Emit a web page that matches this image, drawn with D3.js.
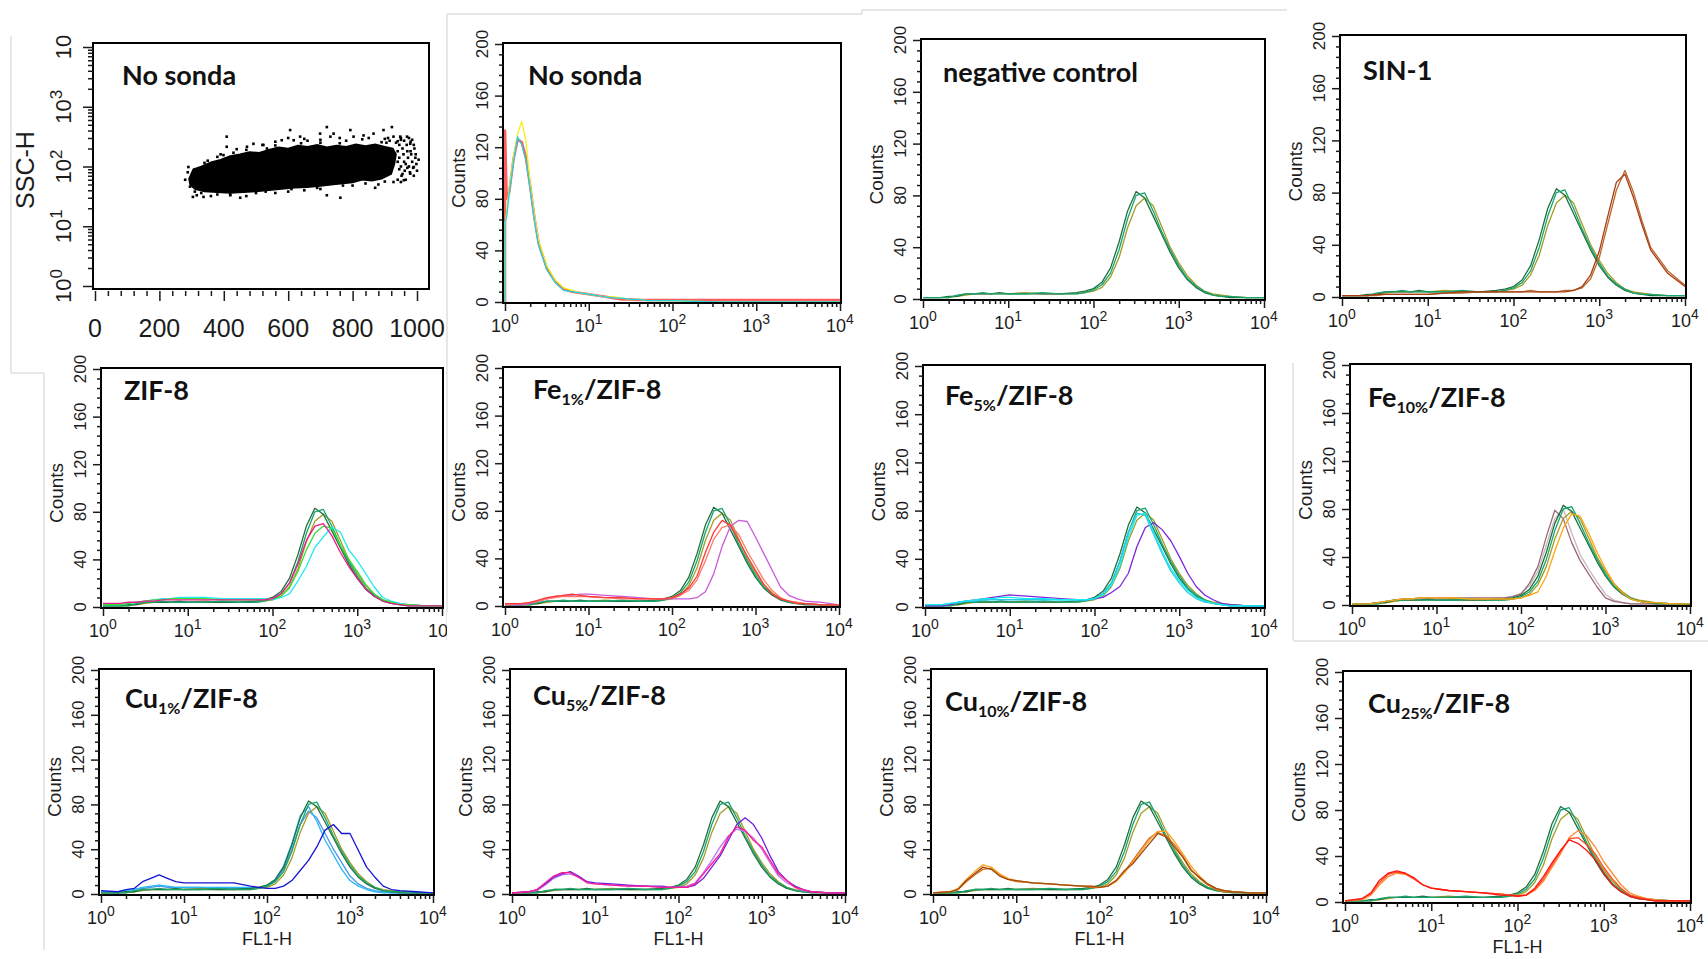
<!DOCTYPE html>
<html><head><meta charset="utf-8">
<script src="https://cdn.jsdelivr.net/npm/d3@7"></script>
<style>body{margin:0;background:#fff}svg{display:block}</style>
</head><body>
<svg id="c" width="1708" height="959"></svg>
<script>
// ---------------- DATA ----------------
// shared log10(FL1-H) bin positions for the histograms
const logGrid = [0,0.2,0.3,0.4,0.5,0.6,0.7,0.8,0.9,1.0,1.2,1.4,1.6,1.8,1.9,2.0,2.1,2.2,2.3,2.4,2.5,2.6,2.7,2.8,2.9,3.0,3.1,3.2,3.3,3.4,3.5,3.6,3.8,4.0];
const nsGrid  = [0,0,0.02,0.05,0.1,0.15,0.2,0.25,0.3,0.35,0.4,0.5,0.6,0.7,0.8,0.9,1.0,1.1,1.2,1.3,1.4,1.5,1.6,1.7,1.8,2.0,2.5,3.0,3.5,4.0];

// No sonda (unstained)
const nsRed    = [0,133,80,85,110,126,124,112,90,66,46,26,16,10,8,7,6,5,4,3,2,2,1.5,1.5,1.5,1.5,1.5,1.5,1.5,1.5];
const nsYellow = [0,60,70,88,112,130,140,125,92,68,48,28,17,11,9,7,6,5,4,4,3,2,2,1,1,1,0,0,0,0];
const nsCyan   = [0,62,66,84,108,128,122,110,88,64,44,25,15,9,8,7,6,5,4,3,3,2,2,1,1,1,0,0,0,0];

// negative control overlays (repeated in every panel)
const ctrlA = [1,1,2,2,4,4,4,4,5,4,4,4,4,5,6,8,13,24,44,68,83,78,64,50,36,24,15,9,5,3,2,1,1,1];
const ctrlB = [1,1,1,3,4,4,5,4,4,4,4,5,4,4,5,7,11,20,38,62,80,82,68,52,38,26,16,10,6,3,2,2,1,1];
const ctrlC = [1,1,1,2,3,4,4,4,4,4,5,4,4,4,5,6,9,17,32,55,72,78,72,56,40,28,18,11,6,4,3,2,1,1];

// SIN-1
const sin1A = [1,1,1,2,2,2,2,2,2,2,3,4,4,4,4,4,4,4,4,4,4,4,5,8,17,35,62,88,94,76,55,36,18,8];
const sin1B = [1,1,1,1,2,2,2,2,2,2,3,3,4,4,4,4,4,5,4,4,4,5,5,7,14,30,56,82,97,80,58,38,20,9];

// ZIF-8
const zifMagenta = [3,3,4,4,5,5,6,6,6,6,6,6,6,6,6,7,11,20,36,56,68,70,60,46,34,24,15,9,5,3,2,1,1,1];
const zifGreen   = [2,2,3,4,5,6,6,7,7,7,7,6,6,6,6,7,9,16,30,48,62,68,66,52,40,30,19,11,6,4,2,2,1,1];
const zifCyan    = [2,2,3,4,5,6,7,7,8,8,8,7,7,7,7,6,8,11,22,34,50,59,67,63,48,39,28,17,8,5,3,2,1,1];

// Fe1%/ZIF-8
const fe1Red    = [2,2,3,5,7,8,9,10,9,8,7,7,6,6,6,7,10,15,25,45,62,72,68,55,42,30,18,10,6,4,2,2,1,1];
const fe1Salmon = [1,2,3,4,6,7,8,8,8,8,7,6,6,6,6,7,9,13,22,38,56,66,68,60,46,34,22,13,7,4,3,2,1,1];
const fe1Violet = [1,1,2,4,6,8,9,9,10,10,9,8,7,6,6,6,6,6,7,12,27,50,67,72,71,58,44,30,16,9,6,4,3,1];

// Fe5%/ZIF-8
const fe5Cyan   = [2,2,3,4,5,6,7,7,8,8,7,7,6,6,6,7,10,18,34,58,76,78,62,46,32,22,14,8,5,3,2,1,1,1];
const fe5Purple = [1,1,2,4,5,6,7,8,9,10,9,8,7,6,6,7,8,12,17,28,50,66,70,64,55,42,28,17,10,6,3,2,1,1];
const fe5Turq   = [2,2,3,4,5,5,6,6,6,6,6,6,6,6,6,7,11,20,38,62,78,76,60,44,30,20,12,7,4,3,2,1,1,1];

// Fe10%/ZIF-8
const fe10Orange = [1,1,2,3,4,5,5,6,6,6,6,5,5,5,5,6,8,11,24,45,64,76,74,60,44,30,18,10,5,3,2,2,1,1];
const fe10Mauve  = [1,1,2,3,4,5,5,6,6,6,6,6,6,6,7,9,18,32,57,79,72,52,37,26,15,6,3,2,1,1,1,1,1,1];
const fe10Grey   = [1,1,2,2,3,4,5,5,5,5,5,5,5,6,7,10,16,28,50,72,80,60,42,30,19,9,4,2,1,1,1,1,1,1];

// Cu1%/ZIF-8
const cu1Blue  = [3,2,4,5,11,14,17,14,11,10,10,10,10,7,6,5,5,7,12,21,30,42,57,62,54,54,39,24,15,7,4,3,2,1];
const cu1Light = [2,2,3,4,6,7,8,7,6,6,6,6,6,6,6,7,13,25,45,70,78,65,48,35,22,12,7,4,2,1,1,1,1,1];
const cu1Sky   = [2,2,3,4,5,6,7,6,6,6,6,5,5,5,6,8,12,22,40,62,74,68,54,40,28,16,9,5,3,2,1,1,1,1];

// Cu5%/ZIF-8
const cu5Pink   = [1,2,4,10,16,19,19,15,10,9,8,7,7,6,6,6,6,9,18,27,36,51,60,57,48,42,30,18,12,6,4,2,1,1];
const cu5Violet = [1,2,3,8,14,17,18,15,11,9,8,7,7,6,6,6,7,10,19,30,42,52,58,56,50,40,28,16,10,6,3,2,1,1];
const cu5Purple = [1,2,4,9,15,18,20,16,11,10,9,8,7,7,6,6,6,8,14,24,34,48,62,68,62,50,34,20,12,7,4,2,1,1];

// Cu10%/ZIF-8
const cu10Brown  = [1,2,4,12,18,24,22,16,13,12,10,9,8,7,7,6,7,12,21,27,36,45,54,51,42,33,21,15,9,5,3,2,1,1];
const cu10Orange = [1,2,5,13,20,26,24,18,14,12,10,9,8,7,7,6,7,11,19,28,38,48,56,56,47,36,25,16,9,5,3,2,1,1];
const cu10Dark   = [1,2,4,11,17,22,23,17,13,11,10,9,8,7,6,6,7,12,20,30,40,50,55,52,44,34,22,14,8,4,2,2,1,1];

// Cu25%/ZIF-8
const cu25Red    = [1,3,8,19,25,27,25,21,15,12,10,9,8,6,6,5,6,12,22,34,45,54,51,45,37,25,15,9,5,3,2,1,1,1];
const cu25Orange = [1,2,6,15,22,25,24,20,15,12,10,9,8,7,6,6,6,10,18,30,42,56,62,58,48,35,25,15,8,5,3,2,1,1];
const cu25OrRed  = [1,3,7,17,24,26,25,20,15,12,10,9,8,7,6,5,6,11,20,32,44,55,56,50,42,30,20,12,6,4,2,1,1,1];

// scatter (FSC-H linear, SSC-H log): dense core outline + sparse events
const scatterCore = [[292,62],[305,90],[330,100],[360,118],[390,130],[420,150],[450,160],[480,175],[510,170],[540,190],[570,210],[600,200],[630,225],[660,215],[690,230],[720,210],[750,225],[780,215],[810,235],[840,220],[870,235],[900,215],[925,200],[935,160],[930,110],[920,75],[890,62],[860,58],[830,60],[800,54],[770,52],[740,50],[700,47],[660,45],[620,44],[580,42],[540,40],[500,38],[460,37],[420,36],[380,37],[340,38],[310,42],[295,50]];
const scatterDots = [[290,98],[295,46],[304,31],[316,33],[337,31],[409,316],[409,214],[399,155],[472,214],[492,240],[523,229],[534,200],[580,275],[606,407],[617,275],[637,316],[699,355],[720,457],[731,316],[741,355],[793,407],[803,316],[834,331],[865,355],[896,407],[922,457],[927,316],[948,316],[969,316],[979,240],[990,98],[979,76],[959,59],[927,55],[762,30],[720,33],[451,30],[600,300],[650,290],[700,280],[760,300],[850,300],[900,290],[950,280],[880,50],[800,48],[700,42],[600,38],[500,36],[420,33],[380,34],[330,36],[300,55],[310,90],[350,125],[390,160],[440,195],[520,230],[560,260],[660,270],[780,270],[830,285],[910,300],[940,265],[870,44],[650,40],[560,36],[470,32],[360,32],[280,60],[288,80],[935,250],[940,180],[945,140],[950,100],[952,70],[955,200],[958,160],[960,120],[962,85],[965,60],[968,230],[970,180],[972,140],[975,100],[978,80],[980,260],[982,160],[985,120],[988,95],[990,70],[992,200],[995,140],[998,110],[1000,85],[945,230],[950,300],[960,270],[975,300],[985,280],[940,120],[945,90],[955,75],[965,110],[970,95],[980,180],[990,230],[996,160],[1005,130],[940,60],[950,55],[905,250],[915,270],[890,255],[760,245],[700,250],[640,245],[560,225],[470,190],[430,170],[380,145],[340,115],[300,72],[310,38],[420,34],[530,38],[610,42],[690,44],[770,48],[840,52],[900,56]];

const countTicks = [0,40,80,120,160,200];
const decadeExps = ['0','1','2','3','4'];
const fscTicks = [0,200,400,600,800,1000];
const sscExps = ['0','1','2','3',''];

const titles = {
  p1:['No sonda'], p2:['No sonda'], p3:['negative control'], p4:['SIN-1'],
  p5:['ZIF-8'], p6:['Fe','1%','/ZIF-8'], p7:['Fe','5%','/ZIF-8'], p8:['Fe','10%','/ZIF-8'],
  p9:['Cu','1%','/ZIF-8'], p10:['Cu','5%','/ZIF-8'], p11:['Cu','10%','/ZIF-8'], p12:['Cu','25%','/ZIF-8']
};

// ---------------- STYLE / LAYOUT ----------------
const C = {dkGreen:'#21703c', teal:'#16a472', olive:'#a69c24'};
const ctrlSet = [[ctrlC,C.olive],[ctrlA,C.dkGreen],[ctrlB,C.teal]];

const histPanels = [
  {id:'p2', box:[503,43,841,303], tp:[528,85], grid:nsGrid, series:[[nsRed,'#ff5e5e',2.6],[nsYellow,'#f4ef1c'],[nsCyan,'#1fd2e4']]},
  {id:'p3', box:[921,39,1265,300], tp:[943,82], series:[...ctrlSet]},
  {id:'p4', box:[1340,35,1686,298], tp:[1363,80], series:[...ctrlSet,[sin1B,'#b8682a'],[sin1A,'#a83c12']]},
  {id:'p5', box:[101,368,443,608], tp:[124,400], series:[...ctrlSet,[zifCyan,'#22eaf2'],[zifGreen,'#34e034'],[zifMagenta,'#f0188c']]},
  {id:'p6', box:[503,367,840,607], tp:[533,399], series:[...ctrlSet,[fe1Violet,'#cc5ad8'],[fe1Salmon,'#ff7a6a'],[fe1Red,'#ff3838']]},
  {id:'p7', box:[923,365,1265,608], tp:[945,405], series:[...ctrlSet,[fe5Purple,'#7a28d8'],[fe5Turq,'#26c6e4'],[fe5Cyan,'#14ecf4']]},
  {id:'p8', box:[1350,364,1691,606], tp:[1368,407], series:[[fe10Grey,'#c9b5bd'],[fe10Mauve,'#9a6a78'],...ctrlSet,[fe10Orange,'#ffa412']]},
  {id:'p9', box:[99,669,434,895], tp:[125,708], fl:true, series:[[cu1Sky,'#4a9ae2'],[cu1Light,'#28b6fa'],...ctrlSet,[cu1Blue,'#1414d2']]},
  {id:'p10', box:[510,669,846,895], tp:[533,705], fl:true, series:[...ctrlSet,[cu5Violet,'#c070f0'],[cu5Purple,'#7020e0'],[cu5Pink,'#ff1a90']]},
  {id:'p11', box:[931,669,1267,895], tp:[945,711], fl:true, series:[...ctrlSet,[cu10Dark,'#d8701c'],[cu10Orange,'#ffa020'],[cu10Brown,'#9e4a12']]},
  {id:'p12', box:[1343,671,1691,903], tp:[1368,713], fl:true, series:[...ctrlSet,[cu25Orange,'#ff8a30'],[cu25OrRed,'#ff5020'],[cu25Red,'#ff1414']]}
];

const frameLines = [[11,36,11,373],[11,373,44,373],[44,373,44,950],[447,14,447,640],[447,14,862,14],[862,10,862,14],[862,10,1287,10],[1293,363,1293,640],[1293,641,1708,641]];

const AX_FONT = '"Liberation Sans", Arial, Helvetica, sans-serif';
const TITLE_FONT = 'Lato, "Open Sans", sans-serif';
const INK = '#1c1c1c';

// ---------------- DRAW ----------------
const svg = d3.select('#c');
svg.append('rect').attr('width',1708).attr('height',959).attr('fill','#fff');

svg.append('g').selectAll('line').data(frameLines).join('line')
  .attr('x1',d=>d[0]).attr('y1',d=>d[1]).attr('x2',d=>d[2]).attr('y2',d=>d[3])
  .attr('stroke','#cfcfcf').attr('stroke-width',1);

function ticks(g, axisGen, scale, values, size, tx, ty){
  const a = g.append('g').attr('transform',`translate(${tx},${ty})`)
    .call(axisGen(scale).tickValues(values).tickSize(size).tickSizeOuter(0).tickFormat(''));
  a.select('.domain').remove();
  a.selectAll('line').attr('stroke',INK).attr('stroke-width',1.5);
}

function drawTitle(x, y, parts){
  const t = svg.append('text').attr('x',x).attr('y',y)
    .attr('font-family',TITLE_FONT).attr('font-weight',700).attr('font-size',27).attr('fill','#111');
  t.append('tspan').text(parts[0]);
  if (parts.length > 1){
    t.append('tspan').attr('font-size',16).attr('dy',6).text(parts[1]);
    t.append('tspan').attr('dy',-6).text(parts[2]);
  }
}

function supText(g, transform, base, exp, size, supSize, raise){
  const t = g.append('text').attr('transform',transform).attr('text-anchor','middle')
    .attr('font-family',AX_FONT).attr('font-size',size).attr('fill',INK);
  t.append('tspan').text(base);
  if (exp) t.append('tspan').attr('font-size',supSize).attr('dy',-raise).text(exp);
  return t;
}

const logMinor = [];
[1,10,100,1000].forEach(d=>{ for(let m=2;m<=9;m++) logMinor.push(m*d); });
const decades = [1,10,100,1000,10000];

// ---- Panel 1: scatter ----
(function(){
  const L=93,T=43,R=429,B=289;
  const g = svg.append('g');
  const x = d3.scaleLinear().domain([0,1000]).range([95,417]);
  const y = d3.scaleLog().domain([1,1e4]).range([286,47]);
  const area = d3.line().x(d=>x(d[0])).y(d=>y(d[1])).curve(d3.curveLinearClosed);
  g.append('path').attr('d',area(scatterCore)).attr('fill','#000').attr('stroke','#000').attr('stroke-width',1.5);
  g.selectAll('rect.dot').data(scatterDots).join('rect').attr('class','dot')
    .attr('x',d=>x(d[0])-1.3).attr('y',d=>y(d[1])-1.3).attr('width',2.6).attr('height',2.6).attr('fill','#000');
  g.append('rect').attr('x',L).attr('y',T).attr('width',R-L).attr('height',B-T)
    .attr('fill','none').attr('stroke','#000').attr('stroke-width',2);
  ticks(g, d3.axisLeft, y, decades, 10, L, 0);
  ticks(g, d3.axisLeft, y, logMinor, 5, L, 0);
  ticks(g, d3.axisBottom, x, fscTicks, 10, 0, B+2);
  ticks(g, d3.axisBottom, x, d3.range(0,1001,40).filter(v=>v%200), 5, 0, B+2);
  fscTicks.forEach(v=>{
    g.append('text').attr('x',x(v)).attr('y',337).attr('text-anchor','middle')
      .attr('font-family',AX_FONT).attr('font-size',25).attr('fill',INK).text(v);
  });
  decades.forEach((v,i)=>{
    supText(g, `translate(${L-22},${y(v)}) rotate(-90)`, '10', sscExps[i], 22, 17, 9);
  });
  g.append('text').attr('transform',`translate(34,170) rotate(-90)`).attr('text-anchor','middle')
    .attr('font-family',AX_FONT).attr('font-size',25).attr('fill',INK).text('SSC-H');
  drawTitle(122, 85, titles.p1);
})();

// ---- Histogram panels ----
histPanels.forEach(p=>{
  const [L,T,R,B] = p.box;
  const grid = p.grid || logGrid;
  const g = svg.append('g');
  const x = d3.scaleLog().domain([1,1e4]).range([L+2,R-1]);
  const y = d3.scaleLinear().domain([0,200]).range([B-1,T+1]);
  const cid = 'clip-'+p.id;
  svg.append('clipPath').attr('id',cid).append('rect').attr('x',L).attr('y',T-2).attr('width',R-L).attr('height',B-T+2);
  const line = d3.line().x(d=>x(Math.pow(10,d[0]))).y(d=>y(d[1]));
  const lg = g.append('g').attr('clip-path',`url(#${cid})`);
  p.series.forEach(s=>{
    const pts = grid.map((gv,i)=>[gv, s[0][i]]);
    lg.append('path').attr('d',line(pts)).attr('fill','none')
      .attr('stroke',s[1]).attr('stroke-width',s[2]||1.3).attr('stroke-linejoin','round');
  });
  g.append('rect').attr('x',L).attr('y',T).attr('width',R-L).attr('height',B-T)
    .attr('fill','none').attr('stroke','#000').attr('stroke-width',2);
  ticks(g, d3.axisLeft, y, countTicks, 8, L, 0);
  ticks(g, d3.axisLeft, y, d3.range(0,201,8).filter(v=>v%40), 4, L, 0);
  ticks(g, d3.axisBottom, x, decades, 8, 0, B);
  ticks(g, d3.axisBottom, x, logMinor, 4, 0, B);
  decades.forEach((v,i)=>{
    supText(g, `translate(${x(v)},${B+29})`, '10', decadeExps[i], 18, 14, 8);
  });
  countTicks.forEach(v=>{
    g.append('text').attr('transform',`translate(${L-15},${y(v)}) rotate(-90)`).attr('text-anchor','middle')
      .attr('font-family',AX_FONT).attr('font-size',17).attr('fill',INK).text(v);
  });
  g.append('text').attr('transform',`translate(${L-38},${(T+B)/2+5}) rotate(-90)`).attr('text-anchor','middle')
    .attr('font-family',AX_FONT).attr('font-size',19).attr('fill',INK).text('Counts');
  if (p.fl){
    g.append('text').attr('x',x(100)).attr('y',B+50).attr('text-anchor','middle')
      .attr('font-family',AX_FONT).attr('font-size',18).attr('fill',INK).text('FL1-H');
  }
  drawTitle(p.tp[0], p.tp[1], titles[p.id]);
  if (p.id==='p5'){
    svg.append('rect').attr('x',447).attr('y',612).attr('width',14).attr('height',28).attr('fill','#fff');
  }
});
</script></body></html>
